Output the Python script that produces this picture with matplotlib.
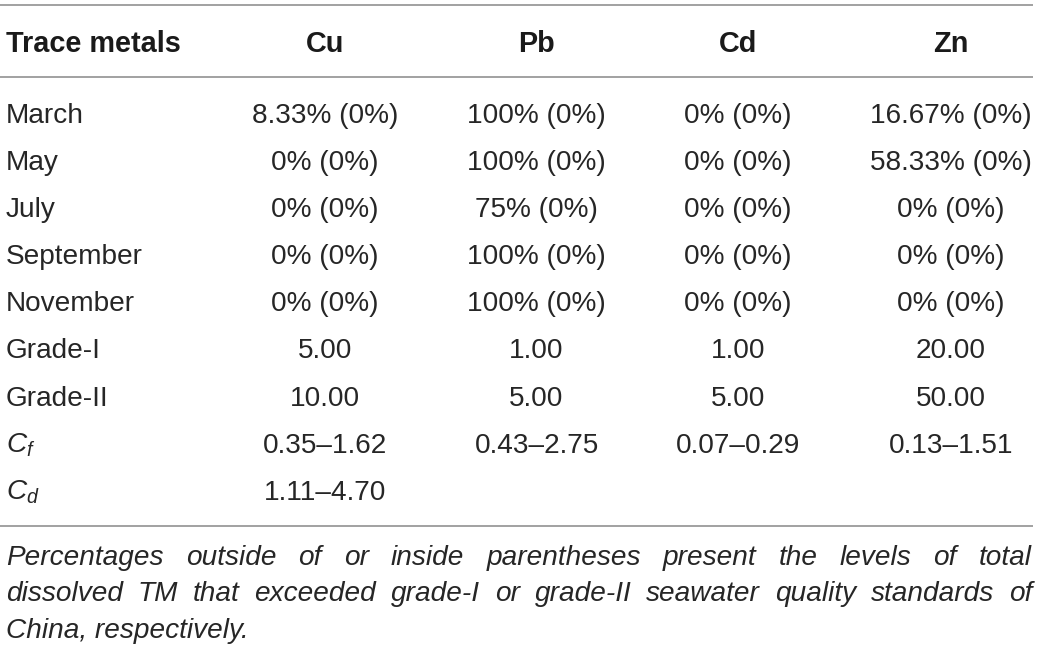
import matplotlib
matplotlib.use("Agg")
import matplotlib.pyplot as plt

plt.rcParams['font.family'] = ['Liberation Sans', 'DejaVu Sans']
plt.rcParams['mathtext.fontset'] = 'custom'
plt.rcParams['mathtext.it'] = 'Liberation Sans:italic'
plt.rcParams['mathtext.rm'] = 'Liberation Sans'

# ---- data ----
header_label = "Trace metals"
columns = ["Cu", "Pb", "Cd", "Zn"]
row_labels = ["March", "May", "July", "September", "November",
              "Grade-I", "Grade-II", "$C_f$", "$C_d$"]
cu = ["8.33% (0%)", "0% (0%)", "0% (0%)", "0% (0%)", "0% (0%)",
      "5.00", "10.00", "0.35–1.62", "1.11–4.70"]
pb = ["100% (0%)", "100% (0%)", "75% (0%)", "100% (0%)", "100% (0%)",
      "1.00", "5.00", "0.43–2.75", ""]
cd = ["0% (0%)", "0% (0%)", "0% (0%)", "0% (0%)", "0% (0%)",
      "1.00", "5.00", "0.07–0.29", ""]
zn = ["16.67% (0%)", "58.33% (0%)", "0% (0%)", "0% (0%)", "0% (0%)",
      "20.00", "50.00", "0.13–1.51", ""]
footnote_lines = [
    "Percentages outside of or inside parentheses present the levels of total",
    "dissolved TM that exceeded grade-I or grade-II seawater quality standards of",
    "China, respectively.",
]

# ---- layout ----
W, H = 1042, 650
fig = plt.figure(figsize=(W / 100, H / 100), dpi=100)
ax = fig.add_axes([0, 0, 1, 1])
ax.set_xlim(0, W)
ax.set_ylim(H, 0)
ax.axis('off')

txt_color = '#262626'
line_color = '#9a9a9a'
fs = 20.2
fs_head = 20.8
left_x = 6
right_x = 1033
col_x = [325, 536.5, 738, 951]
header_base = 52
first_base = 123
row_step = 47.1

for y in (5, 77, 526):
    ax.plot([0, right_x], [y, y], color=line_color, lw=1.3, solid_capstyle='butt')

ax.text(left_x, header_base, header_label, fontsize=fs_head, fontweight='bold',
        color='#1a1a1a', ha='left', va='baseline')
for cx, name in zip(col_x, columns):
    ax.text(cx, header_base, name, fontsize=fs_head, fontweight='bold',
            color='#1a1a1a', ha='center', va='baseline')

cols = [cu, pb, cd, zn]
for i, lab in enumerate(row_labels):
    yb = first_base + i * row_step
    ax.text(left_x, yb, lab, fontsize=fs, color=txt_color, ha='left', va='baseline')
    for cx, col in zip(col_x, cols):
        if col[i]:
            ax.text(cx, yb, col[i], fontsize=fs, color=txt_color,
                    ha='center', va='baseline')

# ---- justified italic footnote ----
fig.canvas.draw()
renderer = fig.canvas.get_renderer()
foot_bases = [565, 601, 638]
for li, (line, yb) in enumerate(zip(footnote_lines, foot_bases)):
    words = line.split(' ')
    if li == len(footnote_lines) - 1:
        ax.text(left_x, yb, line, fontsize=fs, style='italic', color=txt_color,
                ha='left', va='baseline')
        continue
    widths = []
    for w in words:
        t = ax.text(0, yb, w, fontsize=fs, style='italic', color=txt_color,
                    ha='left', va='baseline')
        bb = t.get_window_extent(renderer)
        widths.append(bb.width)
        t.remove()
    total = sum(widths)
    gap = (right_x - 1 - left_x - total) / (len(words) - 1)
    x = left_x
    for w, wd in zip(words, widths):
        ax.text(x, yb, w, fontsize=fs, style='italic', color=txt_color,
                ha='left', va='baseline')
        x += wd + gap

fig.savefig("out.png", dpi=100)
